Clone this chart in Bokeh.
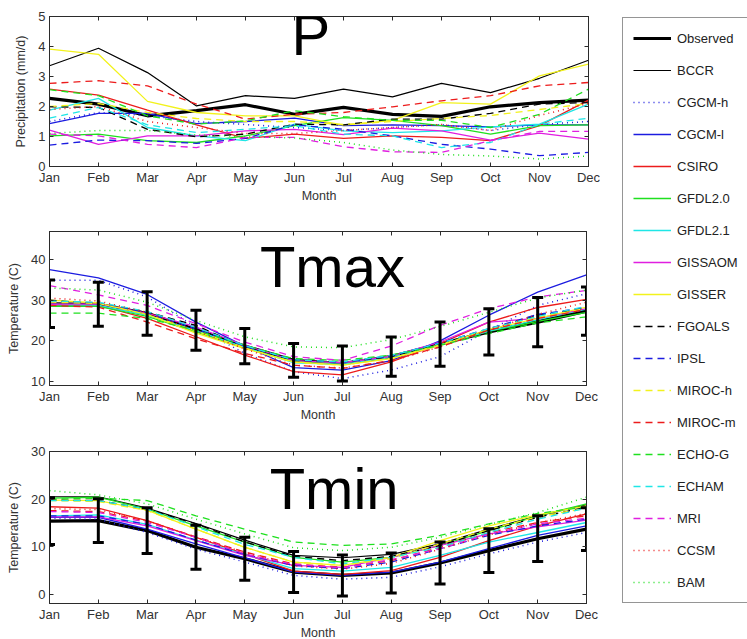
from bokeh.plotting import figure
from bokeh.layouts import row, column
from bokeh.models import (Range1d, FixedTicker, LinearAxis, Label, Legend, LegendItem)
from bokeh.embed import file_html
from bokeh.resources import INLINE

months = ["Jan", "Feb", "Mar", "Apr", "May", "Jun", "Jul", "Aug", "Sep", "Oct", "Nov", "Dec"]
month_idx = list(range(1, 13))

series_names = ["Observed", "BCCR", "CGCM-h", "CGCM-l", "CSIRO", "GFDL2.0", "GFDL2.1", "GISSAOM",
                "GISSER", "FGOALS", "IPSL", "MIROC-h", "MIROC-m", "ECHO-G", "ECHAM", "MRI", "CCSM", "BAM"]

# ---- Precipitation (mm/d)
p_observed = [2.27, 2.08, 1.69, 1.86, 2.06, 1.74, 1.97, 1.74, 1.67, 1.99, 2.13, 2.21]
p_bccr = [3.36, 3.94, 3.13, 2.02, 2.36, 2.27, 2.58, 2.32, 2.77, 2.46, 2.94, 3.54]
p_cgcm_h = [1.5, 1.8, 1.7, 1.5, 1.4, 1.3, 1.2, 1.3, 1.4, 1.2, 1.4, 1.5]
p_cgcm_l = [1.43, 1.77, 1.77, 1.43, 1.50, 1.61, 1.36, 1.39, 1.36, 1.32, 1.39, 1.39]
p_csiro = [2.58, 2.38, 1.88, 1.39, 0.94, 1.08, 0.94, 1.02, 0.97, 0.86, 1.36, 2.21]
p_gfdl20 = [1.02, 1.08, 0.86, 0.80, 1.02, 1.36, 1.63, 1.54, 1.36, 1.08, 1.36, 1.39]
p_gfdl21 = [1.88, 2.27, 1.30, 1.02, 0.86, 1.41, 1.19, 1.13, 1.19, 1.32, 1.41, 2.08]
p_gissaom = [1.21, 0.74, 1.02, 1.02, 1.19, 1.24, 1.06, 1.28, 1.19, 0.88, 1.11, 0.91]
p_gisser = [3.91, 3.74, 2.17, 1.80, 1.69, 1.69, 1.38, 1.54, 2.13, 2.08, 3.02, 3.41]
p_fgoals = [1.99, 1.97, 1.24, 0.99, 1.08, 1.41, 1.39, 1.58, 1.58, 1.77, 2.08, 2.13]
p_ipsl = [0.71, 0.88, 0.86, 0.77, 0.94, 1.39, 1.24, 1.02, 0.74, 0.58, 0.36, 0.47]
p_miroc_h = [2.0, 2.1, 1.8, 1.6, 1.5, 1.5, 1.4, 1.5, 1.6, 1.7, 1.9, 2.1]
p_miroc_m = [2.77, 2.86, 2.69, 2.08, 1.58, 1.74, 1.80, 1.99, 2.19, 2.36, 2.69, 2.80]
p_echo_g = [2.56, 2.36, 1.69, 1.41, 1.52, 1.86, 1.66, 1.54, 1.54, 1.30, 1.74, 2.58]
p_echam = [1.61, 1.97, 1.39, 1.13, 1.24, 1.36, 1.08, 1.02, 0.63, 0.80, 1.41, 1.61]
p_mri = [1.08, 1.02, 0.74, 0.63, 0.97, 0.97, 0.66, 0.49, 0.47, 0.86, 1.17, 1.17]
p_ccsm = [1.9, 2.0, 1.5, 1.3, 1.1, 1.1, 1.2, 1.3, 1.4, 1.2, 1.7, 2.1]
p_bam = [1.1, 1.2, 1.2, 1.05, 1.0, 0.95, 0.8, 0.55, 0.4, 0.35, 0.25, 0.35]

# ---- Tmax (C)
tx_observed = [29.1, 29.0, 26.7, 22.6, 18.7, 15.2, 14.4, 16.1, 19.2, 22.2, 24.6, 27.3]
tx_std = [5.85, 5.4, 5.35, 4.95, 4.35, 4.15, 4.3, 4.85, 5.45, 5.7, 6.05, 5.95]
tx_bccr = [29.2, 29.0, 27.0, 23.0, 18.7, 15.0, 14.4, 16.0, 19.2, 22.5, 25.0, 27.6]
tx_cgcm_h = [34.9, 34.9, 30.8, 23.4, 16.9, 12.4, 10.7, 12.8, 16.1, 22.6, 28.7, 31.6]
tx_cgcm_l = [37.5, 35.5, 31.4, 24.6, 18.7, 13.4, 12.8, 15.1, 20.0, 26.3, 32.0, 36.2]
tx_csiro = [29.0, 28.7, 25.5, 21.0, 16.5, 12.4, 11.6, 14.8, 19.3, 24.6, 28.2, 30.2]
tx_gfdl20 = [28.5, 28.5, 26.0, 22.2, 18.2, 15.0, 14.5, 16.2, 19.0, 22.3, 24.8, 27.0]
tx_gfdl21 = [29.0, 28.8, 26.3, 22.5, 18.4, 14.6, 14.2, 15.9, 19.0, 22.4, 25.2, 27.8]
tx_gissaom = [29.0, 29.1, 26.8, 23.4, 18.9, 15.1, 14.6, 16.2, 19.7, 24.6, 25.5, 27.9]
tx_gisser = [30.0, 29.3, 26.5, 21.9, 18.1, 14.8, 14.0, 15.6, 18.9, 22.8, 25.5, 28.3]
tx_fgoals = [30.0, 29.1, 27.1, 23.8, 18.5, 15.2, 14.8, 16.1, 19.2, 22.8, 26.3, 27.9]
tx_ipsl = [29.5, 29.3, 26.8, 22.9, 18.6, 15.4, 14.7, 16.3, 19.5, 23.0, 26.5, 28.2]
tx_miroc_h = [29.5, 29.2, 26.5, 22.4, 18.3, 14.7, 14.0, 15.7, 19.0, 22.9, 25.8, 28.0]
tx_miroc_m = [28.7, 28.3, 24.6, 20.5, 16.9, 14.0, 13.2, 15.2, 18.5, 22.6, 25.5, 27.7]
tx_echo_g = [26.8, 26.8, 25.5, 22.6, 18.9, 15.6, 15.2, 16.5, 18.9, 21.8, 24.4, 25.9]
tx_echam = [29.8, 29.5, 27.2, 23.3, 18.8, 15.3, 14.8, 16.4, 19.4, 23.0, 26.0, 28.5]
tx_mri = [33.6, 31.3, 28.7, 24.2, 19.7, 16.1, 15.2, 18.7, 23.8, 27.9, 30.8, 32.4]
tx_ccsm = [30.5, 29.8, 27.0, 22.5, 18.0, 14.0, 13.3, 15.0, 18.5, 22.7, 26.5, 29.5]
tx_bam = [33.0, 32.5, 29.5, 25.0, 21.0, 18.5, 18.3, 20.3, 23.5, 27.0, 30.5, 32.5]

# ---- Tmin (C)
tn_observed = [15.4, 15.5, 13.4, 9.9, 7.5, 4.7, 4.0, 4.5, 6.6, 9.2, 11.7, 13.7]
tn_std = [4.9, 4.6, 4.8, 4.6, 4.5, 4.3, 4.3, 4.2, 4.4, 4.6, 4.8, 4.5]
tn_bccr = [20.5, 20.5, 18.1, 14.9, 11.4, 8.2, 7.7, 8.4, 10.6, 13.7, 16.5, 18.8]
tn_cgcm_h = [16.0, 15.8, 13.0, 9.5, 6.8, 4.0, 3.2, 3.6, 5.8, 8.5, 11.0, 13.0]
tn_cgcm_l = [16.2, 16.2, 13.7, 10.6, 7.7, 4.7, 4.0, 4.7, 6.8, 9.6, 12.4, 14.4]
tn_csiro = [18.4, 18.1, 15.5, 12.0, 8.5, 4.9, 4.2, 5.0, 7.8, 11.3, 14.4, 16.9]
tn_gfdl20 = [20.2, 20.4, 17.9, 14.4, 11.0, 7.8, 6.8, 7.8, 10.3, 13.4, 16.5, 19.0]
tn_gfdl21 = [16.5, 16.7, 14.7, 11.4, 8.4, 5.4, 4.9, 5.7, 8.2, 11.0, 13.0, 15.1]
tn_gissaom = [16.3, 16.3, 14.4, 11.3, 8.2, 6.1, 5.7, 7.8, 10.3, 12.7, 14.2, 15.6]
tn_gisser = [19.8, 19.7, 17.7, 13.7, 9.9, 6.8, 6.1, 7.8, 11.3, 14.4, 16.7, 18.6]
tn_fgoals = [19.8, 19.7, 17.9, 14.8, 11.0, 8.0, 7.1, 8.0, 10.3, 13.4, 16.2, 18.3]
tn_ipsl = [16.5, 16.5, 14.7, 11.4, 8.4, 6.1, 5.4, 6.8, 9.6, 12.4, 14.4, 15.8]
tn_miroc_h = [19.7, 19.5, 17.6, 13.7, 9.9, 6.8, 6.1, 7.5, 10.6, 13.7, 16.3, 18.1]
tn_miroc_m = [17.6, 17.4, 15.4, 12.1, 8.9, 6.4, 5.7, 7.1, 9.9, 13.0, 15.1, 16.5]
tn_echo_g = [20.0, 20.2, 19.7, 16.5, 13.7, 11.0, 10.3, 10.6, 12.4, 14.8, 17.0, 18.4]
tn_echam = [19.7, 19.7, 17.9, 14.2, 10.5, 7.8, 6.4, 7.8, 9.9, 13.0, 15.8, 18.1]
tn_mri = [17.4, 17.2, 15.1, 12.0, 8.5, 6.3, 5.6, 7.3, 9.6, 12.7, 14.8, 16.0]
tn_ccsm = [18.0, 17.8, 15.5, 12.0, 8.8, 6.0, 5.3, 6.5, 9.5, 12.5, 15.0, 17.0]
tn_bam = [21.8, 20.9, 19.0, 15.8, 12.7, 9.8, 9.2, 9.9, 12.0, 14.7, 17.2, 20.4]

# ---- styles (colour, dash, width) in legend order
BLUE, RED, GREEN, CYAN, MAG, YEL, BLK = "#1c1ce0", "#ec1c1c", "#1fe01f", "#1fe6e6", "#e01fe0", "#f2f21c", "#000000"
DOT = "1 4"
DASH = "7 5"
styles = [
    (BLK, "solid", 3.2), (BLK, "solid", 1.2), (BLUE, DOT, 1.5), (BLUE, "solid", 1.3),
    (RED, "solid", 1.3), (GREEN, "solid", 1.3), (CYAN, "solid", 1.3), (MAG, "solid", 1.3),
    (YEL, "solid", 1.3), (BLK, DASH, 1.3), (BLUE, DASH, 1.3), (YEL, DASH, 1.3),
    (RED, DASH, 1.3), (GREEN, DASH, 1.3), (CYAN, DASH, 1.3), (MAG, DASH, 1.3),
    (RED, DOT, 1.5), (GREEN, DOT, 1.5),
]

p_series = [p_observed, p_bccr, p_cgcm_h, p_cgcm_l, p_csiro, p_gfdl20, p_gfdl21, p_gissaom, p_gisser,
            p_fgoals, p_ipsl, p_miroc_h, p_miroc_m, p_echo_g, p_echam, p_mri, p_ccsm, p_bam]
tx_series = [tx_observed, tx_bccr, tx_cgcm_h, tx_cgcm_l, tx_csiro, tx_gfdl20, tx_gfdl21, tx_gissaom, tx_gisser,
             tx_fgoals, tx_ipsl, tx_miroc_h, tx_miroc_m, tx_echo_g, tx_echam, tx_mri, tx_ccsm, tx_bam]
tn_series = [tn_observed, tn_bccr, tn_cgcm_h, tn_cgcm_l, tn_csiro, tn_gfdl20, tn_gfdl21, tn_gissaom, tn_gisser,
             tn_fgoals, tn_ipsl, tn_miroc_h, tn_miroc_m, tn_echo_g, tn_echam, tn_mri, tn_ccsm, tn_bam]

FONT = "Liberation Sans"
AX = "#2b2b2b"
TXT = "#333333"


def make_panel(ylo, yhi, yticks, ylabel, series, title, tx, ty, tbase, left, top, bottom, fw, fh,
               obs_std=None):
    p = figure(frame_width=fw, frame_height=fh, x_range=Range1d(1, 12), y_range=Range1d(ylo, yhi),
               output_backend="svg", toolbar_location=None,
               min_border_left=left, min_border_right=14, min_border_top=top, min_border_bottom=bottom,
               background_fill_color="white", border_fill_color="white")
    p.grid.visible = False
    p.outline_line_color = AX
    p.outline_line_width = 1
    p.xaxis.ticker = FixedTicker(ticks=month_idx)
    p.xaxis.major_label_overrides = {i: m for i, m in zip(month_idx, months)}
    p.yaxis.ticker = FixedTicker(ticks=yticks)
    p.xaxis.axis_label = "Month"
    p.yaxis.axis_label = ylabel
    for ax in p.xaxis + p.yaxis:
        ax.major_tick_in = 4
        ax.major_tick_out = 0
        ax.minor_tick_line_color = None
        ax.axis_line_color = AX
        ax.major_tick_line_color = AX
        ax.major_label_text_font = FONT
        ax.major_label_text_font_size = "13px"
        ax.major_label_text_color = TXT
        ax.axis_label_text_font = FONT
        ax.axis_label_text_font_size = "12.5px"
        ax.axis_label_text_font_style = "normal"
        ax.axis_label_text_color = TXT
    p.xaxis.major_label_standoff = 3
    p.xaxis.axis_label_standoff = 1
    p.yaxis.major_label_standoff = 4
    p.yaxis.axis_label_standoff = 7
    # mirrored ticks (top / right), labels not drawn
    top_ax = LinearAxis(ticker=FixedTicker(ticks=month_idx), major_tick_in=4, major_tick_out=0,
                        minor_tick_line_color=None, axis_line_color=AX, major_tick_line_color=AX,
                        major_label_text_font_size="8px", major_label_text_color=None,
                        major_label_standoff=0)
    right_ax = LinearAxis(ticker=FixedTicker(ticks=yticks), major_tick_in=4, major_tick_out=0,
                          minor_tick_line_color=None, axis_line_color=AX, major_tick_line_color=AX,
                          major_label_text_font_size="8px", major_label_text_color=None,
                          major_label_standoff=0)
    p.add_layout(top_ax, "above")
    p.add_layout(right_ax, "right")

    for vals, (col, dash, w) in zip(series, styles):
        p.line(month_idx, vals, line_color=col, line_dash=dash, line_width=w)

    if obs_std is not None:
        obs = series[0]
        upper = [o + s for o, s in zip(obs, obs_std)]
        lower = [o - s for o, s in zip(obs, obs_std)]
        # error bars (glyphs, so they are clipped by the frame like the reference)
        p.segment(x0=month_idx, y0=lower, x1=month_idx, y1=upper, line_color="black", line_width=3)
        p.scatter(month_idx, upper, marker="dash", size=11, line_color="black", line_width=3)
        p.scatter(month_idx, lower, marker="dash", size=11, line_color="black", line_width=3)

    p.add_layout(Label(x=tx, y=ty, text=title, text_font=FONT, text_font_size="58px",
                       text_color="black", text_align="left", text_baseline=tbase))
    return p


p1 = make_panel(0, 5, [0, 1, 2, 3, 4, 5], "Precipitation (mm/d)", p_series, "P", 5.94, 5.48, "top",
                47, 16, 42, 539, 150)
p2 = make_panel(9, 46.9, [10, 20, 30, 40], "Temperature (C)", tx_series, "Tmax", 5.31, 38.3, "alphabetic",
                49, 23, 40, 537, 154, obs_std=tx_std)
p3 = make_panel(-1.9, 30, [0, 10, 20, 30], "Temperature (C)", tn_series, "Tmin", 5.51, 22.2, "alphabetic",
                49, 26, 36, 537, 152, obs_std=tn_std)

# ---- legend panel: the series are drawn out of this panel's view, only their legend is shown
lf = figure(width=147, height=639, x_range=Range1d(-20, -19), y_range=Range1d(-20, -19),
            output_backend="svg", toolbar_location=None, min_border=0,
            x_axis_location=None, y_axis_location=None, outline_line_color=None,
            background_fill_color="white", border_fill_color="white")
lf.grid.visible = False
items = []
for name, vals, (col, dash, w) in zip(series_names, p_series, styles):
    r = lf.line(month_idx, vals, line_color=col, line_dash=dash, line_width=w)
    items.append(LegendItem(label=name, renderers=[r]))
leg = Legend(items=items, location=(22, 36), padding=10, spacing=12, label_height=20,
             glyph_height=20, glyph_width=38, label_standoff=6, margin=0,
             label_text_font=FONT, label_text_font_size="13px", label_text_color="#222222",
             border_line_color=AX, border_line_width=1, background_fill_color="white",
             background_fill_alpha=1.0)
lf.add_layout(leg)

layout = row(column(p1, p2, p3, spacing=0), lf, spacing=0)
open("out.html", "w").write(file_html(layout, INLINE))
